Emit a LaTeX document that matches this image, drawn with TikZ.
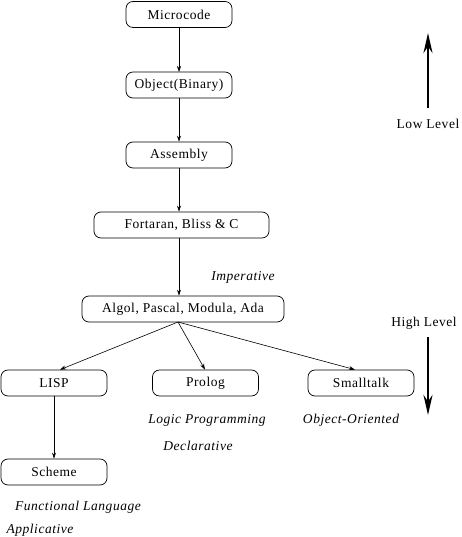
\documentclass[tikz,border=0pt]{standalone}
\usepackage{fontspec}
\setmainfont[LetterSpace=4]{Liberation Serif}
\usetikzlibrary{arrows.meta}
\begin{document}
\begin{tikzpicture}[x=1pt,y=-1pt,
  box/.style={draw,rounded corners=7pt,minimum height=26pt,inner sep=0pt,line width=0.7pt,font=\fontsize{13.5}{15}\selectfont},
  lab/.style={font=\fontsize{13.5}{15}\selectfont\itshape,inner sep=0pt},
  plab/.style={font=\fontsize{13.5}{15}\selectfont,inner sep=0pt},
  conn/.style={-{Stealth[length=6pt,width=4pt]},line width=0.6pt},
  big/.style={-{Stealth[length=20pt,width=9pt]},line width=2.6pt}]
\useasboundingbox (0,0) rectangle (461,537);
\node[box,minimum width=106pt] (micro) at (179,14.5) {Microcode};
\node[box,minimum width=106pt] (obj) at (179,85) {Object(Binary)};
\node[box,minimum width=106pt] (asm) at (179,155) {Assembly};
\node[box,minimum width=175pt] (fort) at (181.5,225) {Fortaran, Bliss \& C};
\node[box,minimum width=202pt] (algol) at (183,309) {Algol, Pascal, Modula, Ada};
\node[box,minimum width=106pt] (lisp) at (54,383) {LISP};
\node[box,minimum width=106pt] (prolog) at (205.5,383) {Prolog};
\node[box,minimum width=106pt] (small) at (361,383) {Smalltalk};
\node[box,minimum width=106pt] (scheme) at (54,472) {Scheme};
\coordinate (fan) at (178,322);
\draw[conn] (179,27) -- (179,72);
\draw[conn] (obj.south -| 179,0) -- (asm.north -| 179,0);
\draw[conn] (asm.south -| 179,0) -- (fort.north -| 179,0);
\draw[conn] (fort.south -| 179,0) -- (algol.north -| 179,0);
\draw[conn] (fan) -- (lisp.north -| 60,0);
\draw[conn] (fan) -- (prolog.north -| 205,0);
\draw[conn] (fan) -- (small.north -| 355,0);
\draw[conn] (lisp.south) -- (scheme.north);
\node[lab] (imp) at (243,277) {Imperative};
\node[lab] (logic) at (207,420) {Logic Programming};
\node[lab] (decl) at (198,446) {Declarative};
\node[lab] (oo) at (351,420) {Object-Oriented};
\node[lab] (func) at (78,507) {Functional Language};
\node[lab] (app) at (40,530) {Applicative};
\node[plab] (low) at (428,124) {Low Level};
\node[plab] (high) at (424,323) {High Level};
\coordinate (upS) at (428,108);
\coordinate (upE) at (428,33);
\coordinate (dnS) at (428,337);
\coordinate (dnE) at (428,415);
\draw[big] (upS) -- (upE);
\draw[big] (dnS) -- (dnE);
\end{tikzpicture}
\end{document}
